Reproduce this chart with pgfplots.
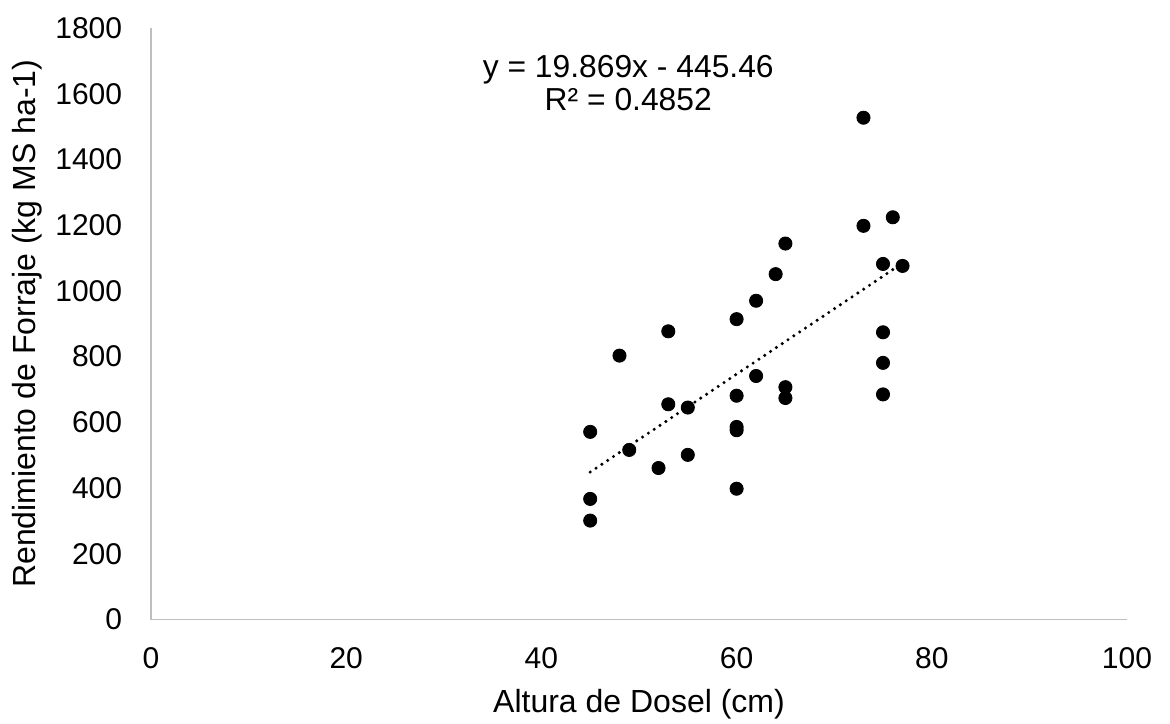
\documentclass[border=0pt]{standalone}
\usepackage{fontspec}
\setmainfont{Liberation Sans}
\usepackage{pgfplots}
\pgfplotsset{compat=1.18}
\begin{document}
\fontsize{15}{17}\selectfont
\begin{tikzpicture}
\useasboundingbox (-75.5pt,-51.75pt) rectangle (509.5pt,309.75pt);
\begin{axis}[
  at={(0,0)}, anchor=south west,
  scale only axis,
  width=488pt, height=295.75pt,
  xmin=0, xmax=100, ymin=0, ymax=1800,
  xtick={0,20,...,100},
  ytick={0,200,...,1800},
  axis lines=left,
  axis line style={-, draw={rgb,255:red,191;green,191;blue,191}, line width=0.75pt},
  major tick length=0pt,
  tick style={draw=none},
  /pgf/number format/assume math mode=true,
  /pgf/number format/1000 sep={},
  ticklabel style={font=\fontsize{15}{17}\selectfont},
  xticklabel style={anchor=north, inner sep=0pt, yshift=-13.75pt},
  yticklabel style={anchor=east, inner sep=0pt, xshift=-14.25pt},
  xlabel={Altura de Dosel (cm)},
  ylabel={Rendimiento de Forraje (kg MS ha-1)},
  label style={font=\fontsize{16}{18}\selectfont},
  xlabel style={at={(axis description cs:0.5,0)}, anchor=north, inner sep=0pt, yshift=-34.75pt},
  ylabel style={at={(axis description cs:-0.1107,0.5)}, anchor=south, inner sep=0pt},
  clip=false,
]
\addplot[only marks, mark=*, mark size=3.3pt, black, mark options={fill=black, draw=black}] coordinates {
(45,571) (45,367) (45,301) (48,803) (53,877) (53,655) (55,645) (49,516)
(52,461) (55,501) (60,681) (60,576) (60,586) (60,398) (62,741) (65,707)
(65,674) (60,914) (73,1527) (73,1198) (76,1224) (75,1082) (77,1076)
(75,874) (75,781) (75,685) (62,970) (64,1051) (65,1144)
};
\addplot[black, line width=1.7pt, line cap=round, dash pattern=on 0pt off 3.5pt] coordinates {
(45,448.65) (77,1084.45)
};
\node[align=center, anchor=north, inner sep=0pt, font=\fontsize{15.9}{16.5}\selectfont] at (axis cs:48.9,1718) {y = 19.869x - 445.46\\R² = 0.4852};
\end{axis}
\end{tikzpicture}
\end{document}
